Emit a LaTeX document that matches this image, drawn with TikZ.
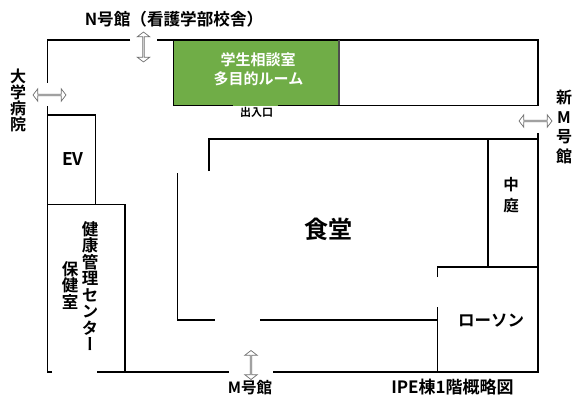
\documentclass[tikz,border=0pt]{standalone}
\usepackage{fontspec}
\usetikzlibrary{shapes.arrows}
\setmainfont{Noto Sans CJK JP}[BoldFont={Noto Sans CJK JP Bold}]
\newfontfamily\vjp{Noto Sans CJK JP}[RawFeature=+vert,BoldFont={Noto Sans CJK JP Bold}]
\definecolor{roomgreen}{HTML}{70AD47}
\definecolor{arrowgray}{HTML}{707070}
\tikzset{
  wall/.style={draw=black,line width=1.6pt,line cap=butt,line join=miter},
  label/.style={inner sep=0pt,font=\fontsize{#1}{#1}\selectfont\bfseries,text=black},
  vlabel/.style={inner sep=0pt,align=center,font=\fontsize{#1}{#1}\selectfont\bfseries\vjp,text=black},
  passage/.style={draw=arrowgray,fill=white,line width=0.7pt,double arrow,inner sep=0pt,
    minimum height=33pt,minimum width=12.5pt,double arrow head extend=2.5pt,double arrow tip angle=105,shape border uses incircle=false},
}
\begin{document}
\begin{tikzpicture}[x=1pt,y=-1pt]
\useasboundingbox (0,0) rectangle (576,396);
% green room
\node[fill=roomgreen,draw=none,minimum width=165.5pt,minimum height=65.5pt,inner sep=0pt,anchor=north west] (room) at (173.5,40) {};
\node[label=15,text=white] (roomA) at (258,60) {学生相談室};
\node[label=15,text=white] (roomB) at (258.5,79) {多目的ルーム};
% outer walls
\draw[wall] (130,40) -- (47.5,40) -- (47.5,83);
\draw[wall] (157,40) -- (538,40) -- (538,106);
\draw[wall] (173.5,40) -- (173.5,105.5) -- (233,105.5);
\draw[wall] (278,105.5) -- (538,105.5);
\draw[draw=arrowgray!70!black,line width=1.2pt] (339,40) -- (339,105);
\draw[wall] (52,372) -- (47.5,372) -- (47.5,106);
\draw[wall] (97,372) -- (229,372);
\draw[wall] (273,372) -- (538,372) -- (538,133);
% EV and health centre
\draw[wall] (47.5,115) -- (95.5,115) -- (95.5,204.5);
\draw[wall] (47.5,204.5) -- (125,204.5) -- (125,372);
% cafeteria
\draw[wall] (209,171) -- (209,139) -- (538,139);
\draw[wall] (177.5,173) -- (177.5,320) -- (215,320);
\draw[wall] (260,320) -- (437.5,320);
\draw[wall] (437.5,277) -- (437.5,267) -- (538,267);
\draw[wall] (437.5,307) -- (437.5,372);
\draw[wall] (488,139) -- (488,267);
% passages
\node[passage,rotate=90,minimum height=30pt] (arrN) at (143.5,47) {};
\node[passage] (arrW) at (49.5,95) {};
\node[passage] (arrE) at (535.5,121) {};
\node[passage,rotate=90,minimum height=29pt] (arrS) at (251,365) {};
% labels
\node[label=16.6] (nbldg) at (174,19) {N号館（看護学部校舎）};
\node[label=15.5,anchor=north] (mbldg) at (250,380) {M号館};
\node[label=17] (title) at (452.5,387.5) {IPE棟1階概略図};
\node[label=11] (door) at (256.5,112) {出入口};
\node[label=17.5] (ev) at (73,159) {EV};
\node[label=24] (cafe) at (328,229) {食堂};
\node[label=16.5] (lawson) at (491,321) {ローソン};
\node[vlabel=16,text width=17pt] (hosp) at (18,100) {大\\学\\病\\院};
\node[vlabel=16,text width=17pt] (newm) at (564,127) {新\\[3.5pt]M\\[3.5pt]号\\[3.5pt]館};
\node[vlabel=15.5,text width=17pt] (court) at (511,195) {中\\[6pt]庭};
\node[vlabel=16.5,text width=17pt] (hc) at (90,286) {健\\康\\管\\理\\セ\\ン\\タ\\ー};
\node[vlabel=16.5,text width=17pt] (hr) at (70,285.5) {保\\健\\室};
\end{tikzpicture}
\end{document}
